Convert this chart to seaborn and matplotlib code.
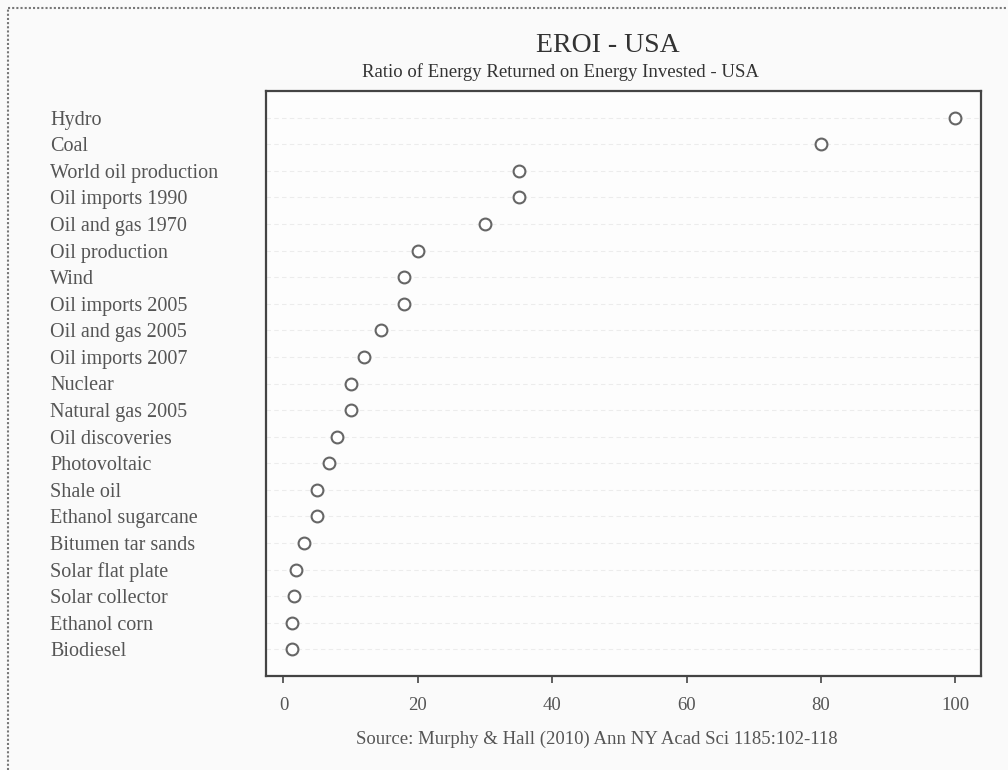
import matplotlib
matplotlib.use("Agg")
import matplotlib.pyplot as plt
import seaborn as sns
import pandas as pd
from matplotlib.lines import Line2D

# EROI values (Murphy & Hall 2010)
sources = ["Hydro", "Coal", "World oil production", "Oil imports 1990",
           "Oil and gas 1970", "Oil production", "Wind", "Oil imports 2005",
           "Oil and gas 2005", "Oil imports 2007", "Nuclear", "Natural gas 2005",
           "Oil discoveries", "Photovoltaic", "Shale oil", "Ethanol sugarcane",
           "Bitumen tar sands", "Solar flat plate", "Solar collector",
           "Ethanol corn", "Biodiesel"]
eroi = [100, 80, 35, 35, 30, 20, 18, 18, 14.5, 12, 10, 10,
        8, 6.8, 5, 5, 3, 1.9, 1.6, 1.3, 1.3]
xticks = [0, 20, 40, 60, 80, 100]

df = pd.DataFrame({"source": sources, "eroi": eroi})

sns.set_style("white")
plt.rcParams['font.family'] = ['Liberation Serif', 'DejaVu Serif']

txt = '#555555'
fig = plt.figure(figsize=(10.08, 7.7), dpi=100, facecolor='#fafafa')
ax = fig.add_axes([266/1008, 1-676/770, (981-266)/1008, (676-91)/770])
ax.set_facecolor('#fdfdfd')

# faint horizontal guide lines
for i in range(len(sources)):
    ax.axhline(i, color='#ececec', lw=0.8, ls=(0, (4, 3)), zorder=0)

sns.stripplot(data=df, x='eroi', y='source', order=sources, orient='h',
              jitter=False, color='white', edgecolor='#666666', linewidth=1.5,
              size=8.5, ax=ax, zorder=3)

ax.set_xlim(-2.6, 103.8)
ax.set_ylim(21, -1)
ax.set_xticks(xticks)
ax.set_xlabel('')
ax.set_ylabel('')

for s in ax.spines.values():
    s.set_visible(True)
    s.set_color('#444444')
    s.set_linewidth(1.6)

ax.tick_params(axis='x', bottom=True, direction='out', length=5, width=1.2,
               color='#444444', labelsize=13.5, labelcolor=txt, pad=10)
ax.tick_params(axis='y', left=False, length=0, pad=155.5, labelsize=14.5,
               labelcolor=txt)
for lab in ax.get_yticklabels():
    lab.set_ha('left')

fig.text(608/1008, 1-45/770, 'EROI - USA', ha='center', va='center',
         fontsize=20, color='#333333')
fig.text(560/1008, 1-72/770, 'Ratio of Energy Returned on Energy Invested - USA',
         ha='center', va='center', fontsize=13.5, color='#333333')
fig.text(597/1008, 1-739/770, 'Source: Murphy & Hall (2010) Ann NY Acad Sci 1185:102-118',
         ha='center', va='center', fontsize=13.5, color=txt)

# dotted frame on left and top edges
fig.add_artist(Line2D([8/1008, 8/1008], [0, 1-8/770], transform=fig.transFigure,
                      color='#777777', lw=1.5, ls=(0, (1, 1))))
fig.add_artist(Line2D([8/1008, 1], [1-8/770, 1-8/770], transform=fig.transFigure,
                      color='#777777', lw=1.5, ls=(0, (1, 1))))

fig.savefig('out.png', dpi=100, facecolor=fig.get_facecolor())
